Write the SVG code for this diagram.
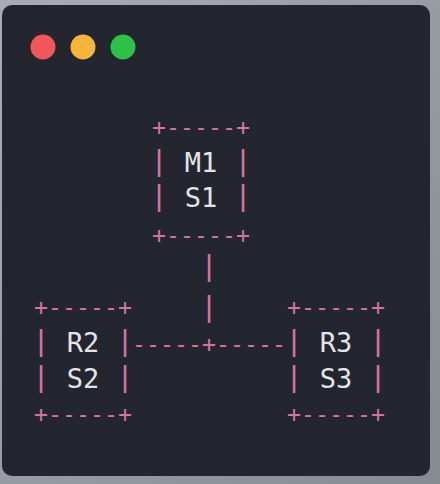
<svg xmlns="http://www.w3.org/2000/svg" width="440" height="484" viewBox="0 0 440 484">
  <defs>
    <linearGradient id="bg" x1="0" y1="0" x2="1" y2="1">
      <stop offset="0" stop-color="#a9adb3"/>
      <stop offset="1" stop-color="#868b92"/>
    </linearGradient>
    <style>
      .edge { font-family: "DejaVu Sans Mono", "Liberation Mono", monospace; font-size: 23.25px; fill: #d3739f; }
      .bar { font-family: "Liberation Mono", "DejaVu Sans Mono", monospace; font-size: 30px; fill: #d3739f; text-anchor: middle; }
      .lbl { font-family: "DejaVu Sans Mono", "Liberation Mono", monospace; font-size: 27px; fill: #e4e4e8; text-anchor: middle; }
    </style>
  </defs>
  <rect x="0" y="0" width="440" height="484" fill="url(#bg)"/>
  <rect x="2" y="5" width="428" height="471" rx="10" fill="#23262f"/>
  <g id="traffic-lights">
    <circle cx="43" cy="47" r="12.5" fill="#f2555a"/>
    <circle cx="83" cy="47" r="12.5" fill="#f6b43b"/>
    <circle cx="123" cy="47" r="12.5" fill="#2bc245"/>
  </g>

  <g id="connectors">
    <text class="bar" x="209" y="276">|</text>
    <text class="bar" x="209" y="317">|</text>
    <text class="edge" x="132" y="351.5" xml:space="preserve">-----+-----</text>
  </g>

  <g id="M1">
    <text class="edge" x="152" y="134.5">+-----+</text>
    <text class="bar" x="159" y="171">|</text>
    <text class="bar" x="243" y="171">|</text>
    <text class="bar" x="159" y="206">|</text>
    <text class="bar" x="243" y="206">|</text>
    <text class="edge" x="152" y="242.5">+-----+</text>
    <text class="lbl" x="201" y="172">M1</text>
    <text class="lbl" x="201" y="207">S1</text>
  </g>

  <g id="R2">
    <text class="edge" x="34" y="314.5">+-----+</text>
    <text class="bar" x="41" y="351">|</text>
    <text class="bar" x="125" y="351">|</text>
    <text class="bar" x="41" y="387">|</text>
    <text class="bar" x="125" y="387">|</text>
    <text class="edge" x="34" y="421.5">+-----+</text>
    <text class="lbl" x="83" y="352">R2</text>
    <text class="lbl" x="83" y="388">S2</text>
  </g>

  <g id="R3">
    <text class="edge" x="287" y="314.5">+-----+</text>
    <text class="bar" x="294" y="351">|</text>
    <text class="bar" x="378" y="351">|</text>
    <text class="bar" x="294" y="387">|</text>
    <text class="bar" x="378" y="387">|</text>
    <text class="edge" x="287" y="421.5">+-----+</text>
    <text class="lbl" x="336" y="352">R3</text>
    <text class="lbl" x="336" y="388">S3</text>
  </g>
</svg>
